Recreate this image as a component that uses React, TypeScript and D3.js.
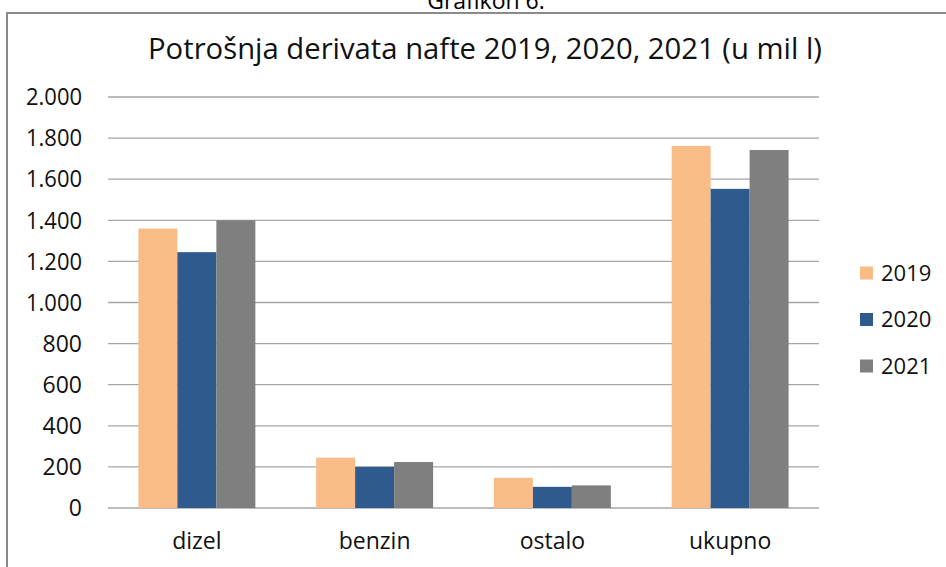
import React from 'react';
import * as d3 from 'd3';

const categories = ['dizel', 'benzin', 'ostalo', 'ukupno'];
const years = ['2019', '2020', '2021'];
const values2019 = [1360, 245, 147, 1762];
const values2020 = [1245, 200, 103, 1553];
const values2021 = [1400, 224, 110, 1742];
const yTicks = [0, 200, 400, 600, 800, 1000, 1200, 1400, 1600, 1800, 2000];
const colors = ['#F9BC87', '#2F5A8E', '#7F7F7F'];

const series = [values2019, values2020, values2021];

const width = 946;
const height = 567;
const plot = { left: 108, right: 819, top: 97, bottom: 508 };
const font = '"Open Sans", sans-serif';

const fmt = (v: number) => v.toLocaleString('de-DE');

const App: React.FC = () => {
  const x0 = d3.scaleBand<string>()
    .domain(categories)
    .range([plot.left, plot.right])
    .paddingInner(0.342)
    .paddingOuter(0.171);

  const x1 = d3.scaleBand<string>()
    .domain(years)
    .range([0, x0.bandwidth()]);

  const y = d3.scaleLinear()
    .domain([0, 2000])
    .range([plot.bottom, plot.top]);

  return (
    <svg width={width} height={height} style={{ position: 'absolute', left: 0, top: 0 }}>
      <rect x={0} y={0} width={width} height={height} fill="#fff" />
      <text x={486} y={9} textAnchor="middle" fontFamily={font} fontSize={23} fill="#000">Grafikon 6.</text>
      <rect x={7} y={13} width={width + 20} height={height + 20} fill="none" stroke="#8a8a8a" strokeWidth={2} />

      <text x={485} y={59} textAnchor="middle" fontFamily={font} fontSize={29} fill="#111"
        textLength={674} lengthAdjust="spacingAndGlyphs">
        Potrošnja derivata nafte 2019, 2020, 2021 (u mil l)
      </text>

      {yTicks.map(t => (
        <g key={t}>
          <line x1={plot.left} x2={plot.right} y1={y(t)} y2={y(t)} stroke="#a6a6a6" strokeWidth={1.3} />
          <text x={82} y={y(t)} dy="0.36em" textAnchor="end" fontFamily={font} fontSize={23} fill="#111"
            textLength={t >= 1000 ? 56 : undefined} lengthAdjust="spacingAndGlyphs">{fmt(t)}</text>
        </g>
      ))}

      {categories.map((c, ci) => (
        <g key={c} transform={`translate(${x0(c)},0)`}>
          {series.map((s, si) => (
            <rect key={si}
              x={x1(years[si])}
              y={y(s[ci])}
              width={x1.bandwidth()}
              height={y(0) - y(s[ci])}
              fill={colors[si]} />
          ))}
          <text x={x0.bandwidth() / 2} y={549} textAnchor="middle" fontFamily={font} fontSize={23} fill="#111">{c}</text>
        </g>
      ))}

      {years.map((yr, i) => (
        <g key={yr} transform={`translate(860,${273 + i * 46.5})`}>
          <rect x={0} y={-6.5} width={13} height={13} fill={colors[i]} />
          <text x={21} y={0} dy="0.36em" fontFamily={font} fontSize={22} fill="#111">{yr}</text>
        </g>
      ))}
    </svg>
  );
};

export default App;
